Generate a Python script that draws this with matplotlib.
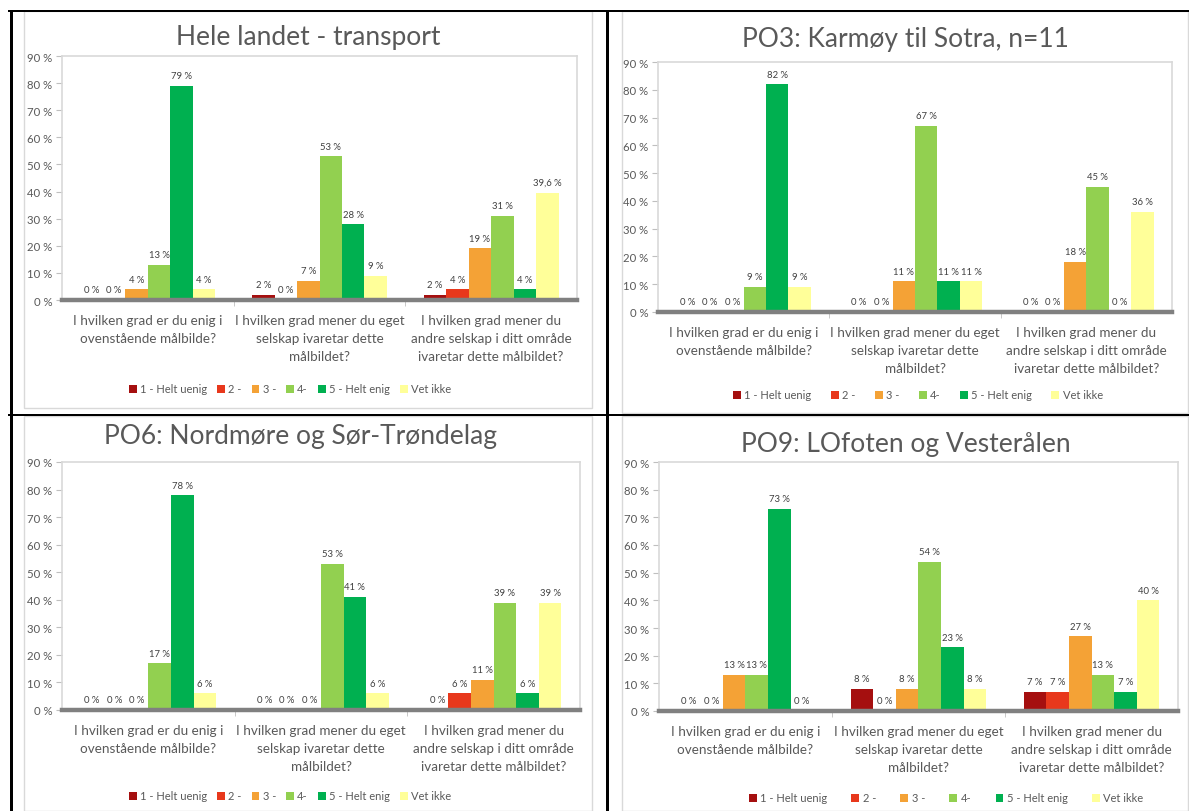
import numpy as np
import matplotlib
matplotlib.use("Agg")
import matplotlib.pyplot as plt
from matplotlib.patches import Rectangle, Patch
from matplotlib.lines import Line2D

plt.rcParams['font.family'] = ['Lato', 'DejaVu Sans']

W, H = 1189, 812

categories = [
    "I hvilken grad er du enig i\novenstående målbilde?",
    "I hvilken grad mener du eget\nselskap ivaretar dette\nmålbildet?",
    "I hvilken grad mener du\nandre selskap i ditt område\nivaretar dette målbildet?",
]
series_names = ["1 - Helt uenig", "2 -", "3 -", "4-", "5 - Helt enig", "Vet ikke"]
series_colors = ["#A50F0F", "#E8381C", "#F4A236", "#92D050", "#00B050", "#FFFF99"]

# percent per series (rows) and question (columns)
hele_landet = [[0, 2, 2], [0, 0, 4], [4, 7, 19], [13, 53, 31], [79, 28, 4], [4, 9, 39.6]]
po3 = [[0, 0, 0], [0, 0, 0], [0, 11, 18], [9, 67, 45], [82, 11, 0], [9, 11, 36]]
po6 = [[0, 0, 0], [0, 0, 6], [0, 0, 11], [17, 53, 39], [78, 41, 6], [6, 6, 39]]
po9 = [[0, 8, 7], [0, 0, 7], [13, 8, 27], [13, 54, 13], [73, 23, 7], [0, 8, 40]]

titles = ["Hele landet - transport", "PO3: Karmøy til Sotra, n=11",
          "PO6: Nordmøre og Sør-Trøndelag", "PO9: LOfoten og Vesterålen"]

# panel layout in pixels: plot box, chart box, title centre, legend centre, legend spacing
panels = [
    dict(data=hele_landet, plot=(62, 57, 577, 301), box=(24, 12, 592, 409),
         title=(308, 38), legend=(290, 390), colsp=0.9),
    dict(data=po3, plot=(658, 63, 1172, 313), box=(622, 12, 1188, 414),
         title=(905, 39), legend=(918, 396), colsp=1.75),
    dict(data=po6, plot=(62, 463, 580, 711), box=(24, 417, 592, 812),
         title=(301, 437), legend=(290, 797), colsp=0.9),
    dict(data=po9, plot=(659, 463, 1178, 712), box=(622, 417, 1188, 812),
         title=(906, 445), legend=(946, 799), colsp=2.2),
]


def fx(x):
    return x / W


def fy(y):
    return 1 - y / H


def fmt(v):
    if float(v).is_integer():
        return f"{int(v)} %"
    return f"{v:.1f}".replace(".", ",") + " %"


fig = plt.figure(figsize=(W / 100, H / 100), dpi=100)
fig.patch.set_facecolor("white")

bar_w = 0.785 / 6
x = np.arange(len(categories))

for i, p in enumerate(panels):
    # chart area frame
    bx0, by0, bx1, by1 = p["box"]
    fig.patches.append(Rectangle((fx(bx0), fy(by1)), fx(bx1 - bx0), (by1 - by0) / H,
                                 transform=fig.transFigure, fill=False,
                                 edgecolor="#D9D9D9", lw=1.0, zorder=0))

    x0, y0, x1, y1 = p["plot"]
    ax = fig.add_axes([fx(x0), fy(y1), fx(x1 - x0), (y1 - y0) / H])
    for s, vals in enumerate(p["data"]):
        pos = x - 0.785 / 2 + bar_w * (s + 0.5)
        ax.bar(pos, vals, width=bar_w, color=series_colors[s], zorder=2)
        for xp, v in zip(pos, vals):
            ax.annotate(fmt(v), (xp, v), xytext=(0, 4), textcoords="offset points",
                        ha="center", va="bottom", fontsize=6.8, color="#404040")

    ax.set_xlim(-0.5, 2.5)
    ax.set_ylim(0, 90)
    ax.set_yticks(range(0, 91, 10))
    ax.set_yticklabels([f"{t} %" for t in range(0, 91, 10)])
    ax.tick_params(axis="y", length=4, width=0.8, color="#BFBFBF",
                   labelsize=8.2, labelcolor="#595959", pad=3)
    ax.set_xticks(x)
    ax.set_xticklabels(categories, fontsize=9.7, color="#595959", linespacing=1.62)
    ax.tick_params(axis="x", length=0, pad=10)
    ax.set_xticks([0.5, 1.5], minor=True)
    ax.tick_params(axis="x", which="minor", length=4, color="#BFBFBF")
    for side in ["top", "right", "left"]:
        ax.spines[side].set_color("#D9D9D9")
        ax.spines[side].set_linewidth(1.2)
    ax.spines["bottom"].set_visible(False)
    ax.axhline(0, color="#808080", lw=3.2, zorder=3, clip_on=False)

    fig.text(fx(p["title"][0]), fy(p["title"][1]), titles[i], ha="center", va="center",
             fontsize=19, color="#595959")

    handles = [Patch(facecolor=c, edgecolor="none") for c in series_colors]
    fig.legend(handles, series_names, loc="center", ncol=6, frameon=False,
               bbox_to_anchor=(fx(p["legend"][0]), fy(p["legend"][1])),
               fontsize=8, labelcolor="#595959", handlelength=0.7, handleheight=0.7,
               handletextpad=0.3, columnspacing=p["colsp"], borderpad=0)

# table grid lines
lines = [
    ((11, 11), (12, 812), 3.0),
    ((607, 607), (12, 812), 3.0),
    ((9, 1189), (12, 12), 2.0),
    ((9, 1189), (416, 416), 2.0),
]
for xs, ys, lw in lines:
    fig.add_artist(Line2D([fx(v) for v in xs], [fy(v) for v in ys],
                          transform=fig.transFigure, color="black", lw=lw * 0.72))

fig.savefig("out.png", dpi=100)
